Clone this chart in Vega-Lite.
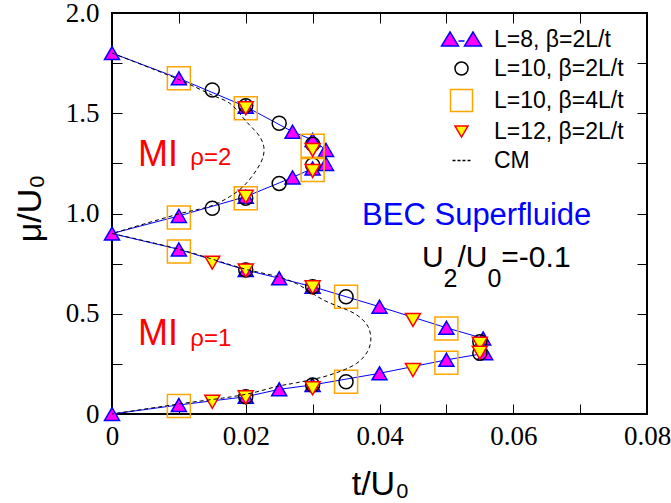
{
  "$schema": "https://vega.github.io/schema/vega-lite/v6.json",
  "width": 535,
  "height": 401,
  "autosize": "none",
  "padding": {"left": 112, "top": 13, "right": 24, "bottom": 89},
  "background": "white",
  "datasets": {
    "pts": [
      {"s": "L=8, β=2L/t", "t": 0, "mu": 1.8},
      {"s": "L=8, β=2L/t", "t": 0.01, "mu": 1.674},
      {"s": "L=8, β=2L/t", "t": 0.02, "mu": 1.533},
      {"s": "L=8, β=2L/t", "t": 0.027, "mu": 1.408},
      {"s": "L=8, β=2L/t", "t": 0.03, "mu": 1.367},
      {"s": "L=8, β=2L/t", "t": 0.032, "mu": 1.317},
      {"s": "L=8, β=2L/t", "t": 0.032, "mu": 1.247},
      {"s": "L=8, β=2L/t", "t": 0.03, "mu": 1.225},
      {"s": "L=8, β=2L/t", "t": 0.027, "mu": 1.18},
      {"s": "L=8, β=2L/t", "t": 0.02, "mu": 1.084},
      {"s": "L=8, β=2L/t", "t": 0.01, "mu": 0.988},
      {"s": "L=8, β=2L/t", "t": 0, "mu": 0.9},
      {"s": "L=8, β=2L/t", "t": 0.01, "mu": 0.821},
      {"s": "L=8, β=2L/t", "t": 0.02, "mu": 0.718},
      {"s": "L=8, β=2L/t", "t": 0.025, "mu": 0.677},
      {"s": "L=8, β=2L/t", "t": 0.03, "mu": 0.635},
      {"s": "L=8, β=2L/t", "t": 0.04, "mu": 0.535},
      {"s": "L=8, β=2L/t", "t": 0.05, "mu": 0.43},
      {"s": "L=8, β=2L/t", "t": 0.0555, "mu": 0.377},
      {"s": "L=8, β=2L/t", "t": 0.0558, "mu": 0.303},
      {"s": "L=8, β=2L/t", "t": 0.05, "mu": 0.27},
      {"s": "L=8, β=2L/t", "t": 0.04, "mu": 0.203},
      {"s": "L=8, β=2L/t", "t": 0.03, "mu": 0.145},
      {"s": "L=8, β=2L/t", "t": 0.025, "mu": 0.123},
      {"s": "L=8, β=2L/t", "t": 0.02, "mu": 0.086},
      {"s": "L=8, β=2L/t", "t": 0.01, "mu": 0.045},
      {"s": "L=8, β=2L/t", "t": 0, "mu": 0},
      {"s": "L=10, β=2L/t", "t": 0.015, "mu": 1.616},
      {"s": "L=10, β=2L/t", "t": 0.02, "mu": 1.538},
      {"s": "L=10, β=2L/t", "t": 0.025, "mu": 1.45},
      {"s": "L=10, β=2L/t", "t": 0.03, "mu": 1.345},
      {"s": "L=10, β=2L/t", "t": 0.03, "mu": 1.242},
      {"s": "L=10, β=2L/t", "t": 0.025, "mu": 1.15},
      {"s": "L=10, β=2L/t", "t": 0.02, "mu": 1.076},
      {"s": "L=10, β=2L/t", "t": 0.015, "mu": 1.026},
      {"s": "L=10, β=2L/t", "t": 0.02, "mu": 0.718},
      {"s": "L=10, β=2L/t", "t": 0.03, "mu": 0.635},
      {"s": "L=10, β=2L/t", "t": 0.035, "mu": 0.585},
      {"s": "L=10, β=2L/t", "t": 0.055, "mu": 0.36},
      {"s": "L=10, β=2L/t", "t": 0.055, "mu": 0.303},
      {"s": "L=10, β=2L/t", "t": 0.035, "mu": 0.161},
      {"s": "L=10, β=2L/t", "t": 0.03, "mu": 0.145},
      {"s": "L=10, β=2L/t", "t": 0.02, "mu": 0.086},
      {"s": "L=10, β=4L/t", "t": 0.01, "mu": 1.674},
      {"s": "L=10, β=4L/t", "t": 0.02, "mu": 1.525},
      {"s": "L=10, β=4L/t", "t": 0.03, "mu": 1.338},
      {"s": "L=10, β=4L/t", "t": 0.03, "mu": 1.217},
      {"s": "L=10, β=4L/t", "t": 0.02, "mu": 1.076},
      {"s": "L=10, β=4L/t", "t": 0.01, "mu": 0.98},
      {"s": "L=10, β=4L/t", "t": 0.01, "mu": 0.81},
      {"s": "L=10, β=4L/t", "t": 0.035, "mu": 0.585},
      {"s": "L=10, β=4L/t", "t": 0.05, "mu": 0.427},
      {"s": "L=10, β=4L/t", "t": 0.05, "mu": 0.256},
      {"s": "L=10, β=4L/t", "t": 0.035, "mu": 0.161},
      {"s": "L=10, β=4L/t", "t": 0.01, "mu": 0.04},
      {"s": "L=12, β=2L/t", "t": 0.02, "mu": 1.525},
      {"s": "L=12, β=2L/t", "t": 0.03, "mu": 1.317},
      {"s": "L=12, β=2L/t", "t": 0.03, "mu": 1.212},
      {"s": "L=12, β=2L/t", "t": 0.02, "mu": 1.084},
      {"s": "L=12, β=2L/t", "t": 0.015, "mu": 0.755},
      {"s": "L=12, β=2L/t", "t": 0.02, "mu": 0.716},
      {"s": "L=12, β=2L/t", "t": 0.03, "mu": 0.632},
      {"s": "L=12, β=2L/t", "t": 0.045, "mu": 0.469},
      {"s": "L=12, β=2L/t", "t": 0.055, "mu": 0.35},
      {"s": "L=12, β=2L/t", "t": 0.055, "mu": 0.306},
      {"s": "L=12, β=2L/t", "t": 0.045, "mu": 0.219},
      {"s": "L=12, β=2L/t", "t": 0.03, "mu": 0.128},
      {"s": "L=12, β=2L/t", "t": 0.02, "mu": 0.083},
      {"s": "L=12, β=2L/t", "t": 0.015, "mu": 0.061}
    ],
    "l8": [
      {"b": "2u", "o": 1, "t": 0, "mu": 1.8},
      {"b": "2u", "o": 2, "t": 0.01, "mu": 1.674},
      {"b": "2u", "o": 3, "t": 0.02, "mu": 1.533},
      {"b": "2u", "o": 4, "t": 0.027, "mu": 1.408},
      {"b": "2u", "o": 5, "t": 0.03, "mu": 1.367},
      {"b": "2u", "o": 6, "t": 0.032, "mu": 1.317},
      {"b": "2l", "o": 1, "t": 0.032, "mu": 1.247},
      {"b": "2l", "o": 2, "t": 0.03, "mu": 1.225},
      {"b": "2l", "o": 3, "t": 0.027, "mu": 1.18},
      {"b": "2l", "o": 4, "t": 0.02, "mu": 1.084},
      {"b": "2l", "o": 5, "t": 0.01, "mu": 0.988},
      {"b": "2l", "o": 6, "t": 0, "mu": 0.9},
      {"b": "1u", "o": 1, "t": 0, "mu": 0.9},
      {"b": "1u", "o": 2, "t": 0.01, "mu": 0.821},
      {"b": "1u", "o": 3, "t": 0.02, "mu": 0.718},
      {"b": "1u", "o": 4, "t": 0.025, "mu": 0.677},
      {"b": "1u", "o": 5, "t": 0.03, "mu": 0.635},
      {"b": "1u", "o": 6, "t": 0.04, "mu": 0.535},
      {"b": "1u", "o": 7, "t": 0.05, "mu": 0.43},
      {"b": "1u", "o": 8, "t": 0.0555, "mu": 0.377},
      {"b": "1l", "o": 1, "t": 0.0558, "mu": 0.303},
      {"b": "1l", "o": 2, "t": 0.05, "mu": 0.27},
      {"b": "1l", "o": 3, "t": 0.04, "mu": 0.203},
      {"b": "1l", "o": 4, "t": 0.03, "mu": 0.145},
      {"b": "1l", "o": 5, "t": 0.025, "mu": 0.123},
      {"b": "1l", "o": 6, "t": 0.02, "mu": 0.086},
      {"b": "1l", "o": 7, "t": 0.01, "mu": 0.045},
      {"b": "1l", "o": 8, "t": 0, "mu": 0}
    ],
    "cm": [
      {"b": "c2", "o": 1, "t": 0, "mu": 1.8},
      {"b": "c2", "o": 2, "t": 0.01, "mu": 1.668},
      {"b": "c2", "o": 3, "t": 0.015, "mu": 1.59},
      {"b": "c2", "o": 4, "t": 0.0176, "mu": 1.55},
      {"b": "c2", "o": 5, "t": 0.0201, "mu": 1.458},
      {"b": "c2", "o": 6, "t": 0.0221, "mu": 1.383},
      {"b": "c2", "o": 7, "t": 0.0227, "mu": 1.333},
      {"b": "c2", "o": 8, "t": 0.0226, "mu": 1.283},
      {"b": "c2", "o": 9, "t": 0.0216, "mu": 1.217},
      {"b": "c2", "o": 10, "t": 0.0196, "mu": 1.134},
      {"b": "c2", "o": 11, "t": 0.0176, "mu": 1.084},
      {"b": "c2", "o": 12, "t": 0.015, "mu": 1.04},
      {"b": "c2", "o": 13, "t": 0.01, "mu": 0.998},
      {"b": "c2", "o": 14, "t": 0, "mu": 0.9},
      {"b": "c1", "o": 1, "t": 0, "mu": 0.9},
      {"b": "c1", "o": 2, "t": 0.01, "mu": 0.822},
      {"b": "c1", "o": 3, "t": 0.02, "mu": 0.722},
      {"b": "c1", "o": 4, "t": 0.025, "mu": 0.683},
      {"b": "c1", "o": 5, "t": 0.0276, "mu": 0.65},
      {"b": "c1", "o": 6, "t": 0.0316, "mu": 0.569},
      {"b": "c1", "o": 7, "t": 0.0366, "mu": 0.494},
      {"b": "c1", "o": 8, "t": 0.0383, "mu": 0.435},
      {"b": "c1", "o": 9, "t": 0.0387, "mu": 0.369},
      {"b": "c1", "o": 10, "t": 0.0382, "mu": 0.311},
      {"b": "c1", "o": 11, "t": 0.0366, "mu": 0.253},
      {"b": "c1", "o": 12, "t": 0.0326, "mu": 0.195},
      {"b": "c1", "o": 13, "t": 0.0276, "mu": 0.156},
      {"b": "c1", "o": 14, "t": 0.025, "mu": 0.14},
      {"b": "c1", "o": 15, "t": 0.02, "mu": 0.098},
      {"b": "c1", "o": 16, "t": 0.01, "mu": 0.05},
      {"b": "c1", "o": 17, "t": 0, "mu": 0}
    ]
  },
  "layer": [
    {
      "data": {"name": "l8"},
      "mark": {"type": "line", "color": "#0000ff", "strokeWidth": 1},
      "encoding": {
        "x": {"field": "t", "type": "quantitative", "scale": {"domain": [0, 0.08], "nice": false, "zero": false}, "axis": null},
        "y": {"field": "mu", "type": "quantitative", "scale": {"domain": [0, 2], "nice": false}, "axis": null},
        "detail": {"field": "b"},
        "order": {"field": "o"}
      }
    },
    {
      "data": {"name": "pts"},
      "transform": [{"filter": "datum.s === 'L=8, β=2L/t'"}],
      "mark": {"type": "point", "shape": "triangle-up", "size": 225, "fill": "#ff00ff", "stroke": "#0000ff", "strokeWidth": 1.5, "opacity": 1},
      "encoding": {
        "x": {"field": "t", "type": "quantitative",
          "axis": {"orient": "bottom", "values": [0, 0.01, 0.02, 0.03, 0.04, 0.05, 0.06, 0.07, 0.08],
            "labelExpr": "datum.value == 0 ? '0' : (round(datum.value*100) % 2 == 0 ? format(datum.value, '.2f') : '')",
            "title": "t/U₀", "titleX": 268, "titleY": 80, "titleBaseline": "alphabetic", "labelPadding": 19, "labelFlush": false, "labelOverlap": false}},
        "y": {"field": "mu", "type": "quantitative",
          "axis": {"orient": "left", "values": [0, 0.25, 0.5, 0.75, 1, 1.25, 1.5, 1.75, 2],
            "labelExpr": "datum.value == 0 ? '0' : (round(datum.value*4) % 2 == 0 ? format(datum.value, '.1f') : '')",
            "title": "μ/U₀", "titleX": -72, "titleY": 195, "titleAngle": -90, "titleBaseline": "alphabetic", "labelPadding": 23, "labelFlush": false, "labelOverlap": false}}
      }
    },
    {
      "data": {"name": "pts"},
      "transform": [{"filter": "datum.s === 'L=10, β=2L/t'"}],
      "mark": {"type": "point", "shape": "circle", "size": 196, "fill": "transparent", "stroke": "#000000", "strokeWidth": 1.5, "opacity": 1},
      "encoding": {
        "x": {"field": "t", "type": "quantitative", "axis": null},
        "y": {"field": "mu", "type": "quantitative", "axis": null}
      }
    },
    {
      "data": {"name": "pts"},
      "transform": [{"filter": "datum.s === 'L=10, β=4L/t'"}],
      "mark": {"type": "point", "shape": "square", "size": 529, "fill": "transparent", "stroke": "#ffa500", "strokeWidth": 1.5, "opacity": 1},
      "encoding": {
        "x": {"field": "t", "type": "quantitative", "axis": null},
        "y": {"field": "mu", "type": "quantitative", "axis": null}
      }
    },
    {
      "data": {"name": "pts"},
      "transform": [{"filter": "datum.s === 'L=12, β=2L/t'"}],
      "mark": {"type": "point", "shape": "triangle-down", "size": 225, "fill": "#ffff00", "stroke": "#ff0000", "strokeWidth": 1.5, "opacity": 1},
      "encoding": {
        "x": {"field": "t", "type": "quantitative", "axis": null},
        "y": {"field": "mu", "type": "quantitative", "axis": null}
      }
    },
    {
      "data": {"name": "pts"},
      "transform": [{"filter": "datum.t < 0"}],
      "mark": {"type": "point", "filled": false, "strokeWidth": 1.5, "opacity": 1},
      "encoding": {
        "x": {"field": "t", "type": "quantitative", "axis": null},
        "y": {"field": "mu", "type": "quantitative", "axis": null},
        "shape": {"field": "s", "type": "nominal",
          "scale": {"domain": ["L=8, β=2L/t", "L=10, β=2L/t", "L=10, β=4L/t", "L=12, β=2L/t", "CM"],
                    "range": [
                      "M-2.66,0.85L-0.4,0.85L-1.53,-1.0Z M0.4,0.85L2.66,0.85L1.53,-1.0Z M-0.4,0.2L0.4,0.2",
                      "M-0.87,0A0.87,0.87,0,1,1,0.87,0A0.87,0.87,0,1,1,-0.87,0Z",
                      "M-1.47,-1.47H1.47V1.47H-1.47Z",
                      "M-0.87,-0.75L0.87,-0.75L0,0.75Z",
                      "M-1.2,0H-0.8M-0.53,0H-0.13M0.13,0H0.53M0.8,0H1.2"
                    ]},
          "legend": {
            "title": null, "orient": "none", "legendX": 338, "legendY": 15, "padding": 0,
            "labelFont": "Liberation Sans", "labelFontSize": 23, "labelColor": "black", "labelLimit": 400,
            "symbolSize": 225, "symbolStrokeWidth": 1.5, "symbolOpacity": 1, "labelOffset": 21, "rowPadding": 5
          }},
        "fill": {"field": "s", "type": "nominal",
          "scale": {"domain": ["L=8, β=2L/t", "L=10, β=2L/t", "L=10, β=4L/t", "L=12, β=2L/t", "CM"],
                    "range": ["#ff00ff", "transparent", "transparent", "#ffff00", "transparent"]},
          "legend": {
            "title": null, "orient": "none", "legendX": 338, "legendY": 15, "padding": 0,
            "labelFont": "Liberation Sans", "labelFontSize": 23, "labelColor": "black", "labelLimit": 400,
            "symbolSize": 225, "symbolStrokeWidth": 1.5, "symbolOpacity": 1, "labelOffset": 21, "rowPadding": 5
          }},
        "stroke": {"field": "s", "type": "nominal",
          "scale": {"domain": ["L=8, β=2L/t", "L=10, β=2L/t", "L=10, β=4L/t", "L=12, β=2L/t", "CM"],
                    "range": ["#0000ff", "#000000", "#ffa500", "#ff0000", "#000000"]},
          "legend": {
            "title": null, "orient": "none", "legendX": 338, "legendY": 15, "padding": 0,
            "labelFont": "Liberation Sans", "labelFontSize": 23, "labelColor": "black", "labelLimit": 400,
            "symbolSize": 225, "symbolStrokeWidth": 1.5, "symbolOpacity": 1, "labelOffset": 21, "rowPadding": 5
          }}
      }
    },
    {
      "data": {"name": "cm"},
      "mark": {"type": "line", "color": "black", "strokeWidth": 1, "strokeDash": [4, 3], "interpolate": "catmull-rom"},
      "encoding": {
        "x": {"field": "t", "type": "quantitative",
          "axis": {"orient": "top", "values": [0, 0.01, 0.02, 0.03, 0.04, 0.05, 0.06, 0.07, 0.08], "labels": false, "title": null}},
        "y": {"field": "mu", "type": "quantitative",
          "axis": {"orient": "right", "values": [0, 0.25, 0.5, 0.75, 1, 1.25, 1.5, 1.75, 2], "labels": false, "title": null}},
        "detail": {"field": "b"},
        "order": {"field": "o"}
      }
    },
    {
      "data": {"values": [{"t": 0.0039, "mu": 1.237, "label": "MI"}, {"t": 0.0039, "mu": 0.344, "label": "MI"}]},
      "mark": {"type": "text", "align": "left", "baseline": "alphabetic", "font": "Liberation Sans", "fontSize": 36, "color": "#ff0000"},
      "encoding": {"x": {"field": "t", "type": "quantitative", "axis": null}, "y": {"field": "mu", "type": "quantitative", "axis": null}, "text": {"field": "label"}}
    },
    {
      "data": {"values": [{"t": 0.0117, "mu": 1.242, "label": "ρ=2"}, {"t": 0.0117, "mu": 0.341, "label": "ρ=1"}]},
      "mark": {"type": "text", "align": "left", "baseline": "alphabetic", "font": "Liberation Sans", "fontSize": 24, "color": "#ff0000"},
      "encoding": {"x": {"field": "t", "type": "quantitative", "axis": null}, "y": {"field": "mu", "type": "quantitative", "axis": null}, "text": {"field": "label"}}
    },
    {
      "data": {"values": [{"t": 0.0374, "mu": 0.943, "label": "BEC Superfluide"}]},
      "mark": {"type": "text", "align": "left", "baseline": "alphabetic", "font": "Liberation Sans", "fontSize": 31, "color": "#0000ff"},
      "encoding": {"x": {"field": "t", "type": "quantitative", "axis": null}, "y": {"field": "mu", "type": "quantitative", "axis": null}, "text": {"field": "label"}}
    },
    {
      "data": {"values": [{"t": 0.04634, "mu": 0.7347, "label": "U"}, {"t": 0.05166, "mu": 0.7347, "label": "/U"}, {"t": 0.05822, "mu": 0.7347, "label": "=-0.1"}]},
      "mark": {"type": "text", "align": "left", "baseline": "alphabetic", "font": "Liberation Sans", "fontSize": 30, "color": "black"},
      "encoding": {"x": {"field": "t", "type": "quantitative", "axis": null}, "y": {"field": "mu", "type": "quantitative", "axis": null}, "text": {"field": "label"}}
    },
    {
      "data": {"values": [{"t": 0.04958, "mu": 0.635, "label": "2"}, {"t": 0.05614, "mu": 0.635, "label": "0"}]},
      "mark": {"type": "text", "align": "left", "baseline": "alphabetic", "font": "Liberation Sans", "fontSize": 25, "color": "black"},
      "encoding": {"x": {"field": "t", "type": "quantitative", "axis": null}, "y": {"field": "mu", "type": "quantitative", "axis": null}, "text": {"field": "label"}}
    }
  ],
  "resolve": {"axis": {"x": "independent", "y": "independent"}},
  "config": {
    "view": {"stroke": "black", "strokeWidth": 2},
    "axis": {
      "grid": false, "domain": false, "tickColor": "black", "tickSize": -10, "tickWidth": 1,
      "labelFont": "Liberation Serif", "labelFontSize": 27, "labelColor": "black",
      "titleFont": "Liberation Sans", "titleFontSize": 34, "titleFontWeight": "normal", "titleColor": "black"
    }
  }
}
